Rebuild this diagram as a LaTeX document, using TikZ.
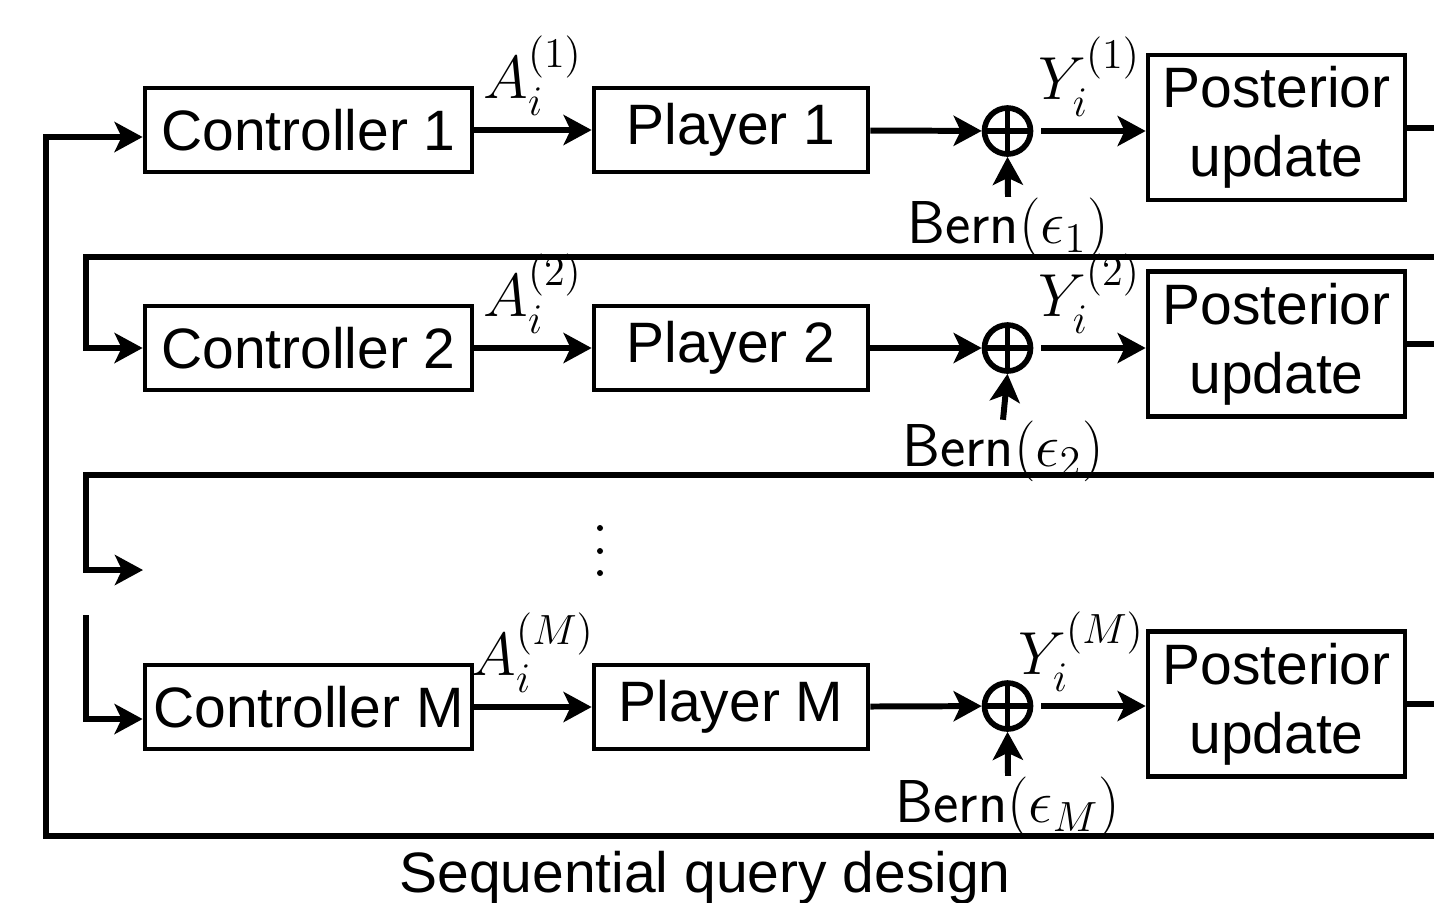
\documentclass[tikz,border=0pt]{standalone}
\usepackage{amsmath}
\usepackage[no-math]{fontspec}
\setmainfont{Liberation Sans}
\usetikzlibrary{arrows.meta}

\tikzset{
	block/.style={rectangle, draw, line width=1.3pt, inner sep=0pt},
	ctrlbox/.style={block, minimum width=3.27cm, minimum height=0.84cm},
	playerbox/.style={block, minimum width=2.74cm, minimum height=0.84cm},
	postbox/.style={block, minimum width=2.57cm, minimum height=1.45cm, align=center,
		font=\fontsize{16.2}{19.5}\selectfont},
	sum/.style={circle, draw, line width=1.6pt, minimum size=0.46cm, inner sep=0pt,
		path picture={\draw[line width=1.6pt]
			(path picture bounding box.north) -- (path picture bounding box.south)
			(path picture bounding box.west) -- (path picture bounding box.east);}},
	noise/.style={anchor=base, inner sep=0pt, font=\fontsize{17.2}{20}\selectfont},
	lbl/.style={above, font=\fontsize{17.5}{20}\selectfont},
	wire/.style={line width=1.7pt},
	link/.style={wire, -{Stealth[length=0.28cm, width=0.3cm, inset=0.07cm]}},
}

\begin{document}
\begin{tikzpicture}[x=0.01cm, y=-0.01cm, font=\fontsize{16.2}{18.5}\selectfont]
		
		\useasboundingbox (0,0) rectangle (1434,902);
		\clip (0,0) rectangle (1434,902);
		
		% row 1
		\node[ctrlbox]  (ctrl1)   at (308.5,130) {Controller 1};
		\node[playerbox](player1) at (731,130)   {Player 1};
		\node[sum]      (sum1)    at (1007.5,131) {};
		\node[postbox]  (post1)   at (1276.5,127.5) {Posterior\\update};
		\node[noise]    (bern1)   at (1008,243)  {\textsf{Bern}$(\epsilon_1)$};
		
		% row 2
		\node[ctrlbox]  (ctrl2)   at (308.5,348) {Controller 2};
		\node[playerbox](player2) at (731,348)   {Player 2};
		\node[sum]      (sum2)    at (1007.5,348) {};
		\node[postbox]  (post2)   at (1276.5,344) {Posterior\\update};
		\node[noise]    (bern2)   at (1003,466)  {\textsf{Bern}$(\epsilon_2)$};
		
		% dots
		\foreach \y in {528,551,573}
			\fill (600,\y) circle (0.03cm);
		
		% row M
		\node[ctrlbox]  (ctrlM)   at (308.5,707) {Controller M};
		\node[playerbox](playerM) at (731,707)   {Player M};
		\node[sum]      (sumM)    at (1007.5,706) {};
		\node[postbox]  (postM)   at (1276.5,704) {Posterior\\update};
		\node[noise]    (bernM)   at (1008,822)  {\textsf{Bern}$(\epsilon_M)$};
		
		\node[anchor=base] (caption) at (705,892) {Sequential query design};
		
		% Edges...
		
		\draw[link] (ctrl1) -- node[lbl]{$A_i^{(1)}$} (player1);
		\draw[link] (player1) -- (sum1);
		\draw[link, shorten <=0.08cm] (sum1) -- node[lbl]{$Y_i^{(1)}$} (post1.west |- sum1);
		\draw[link] (bern1.north) -- (sum1.south);
		
		\draw[link] (ctrl2) -- node[lbl]{$A_i^{(2)}$} (player2);
		\draw[link] (player2) -- (sum2);
		\draw[link, shorten <=0.08cm] (sum2) -- node[lbl]{$Y_i^{(2)}$} (post2.west |- sum2);
		\draw[link] (bern2.north) -- (sum2.south);
		
		\draw[link] (ctrlM) -- node[lbl]{$A_i^{(M)}$} (playerM);
		\draw[link] (playerM) -- (sumM);
		\draw[link, shorten <=0.08cm] (sumM) -- node[lbl, xshift=-0.08cm]{$Y_i^{(M)}$} (postM.west |- sumM);
		\draw[link] (bernM.north) -- (sumM.south);
		
		% feedback
		
		\coordinate (edge)   at (1450,0);
		\coordinate (fb1)    at (1450,257);
		\coordinate (fb2)    at (1450,475);
		\coordinate (fb3)    at (1450,836);
		\coordinate (gapin)  at (143,570);
		\coordinate (gapout) at (86,615);
		
		\draw[wire] (post1.east) -- (post1.east -| edge);
		\draw[wire] (post2.east) -- (post2.east -| edge);
		\draw[wire] (postM.east) -- (postM.east -| edge);
		
		\draw[link] (fb1) -- (86,257) |- (ctrl2.west);
		\draw[link] (fb2) -- (86,475) |- (gapin);
		\draw[link] (gapout) |- ([yshift=-0.12cm]ctrlM.west);
		\draw[link] (fb3) -- (46,836) |- ([yshift=-0.07cm]ctrl1.west);
		
	\end{tikzpicture}
\end{document}
